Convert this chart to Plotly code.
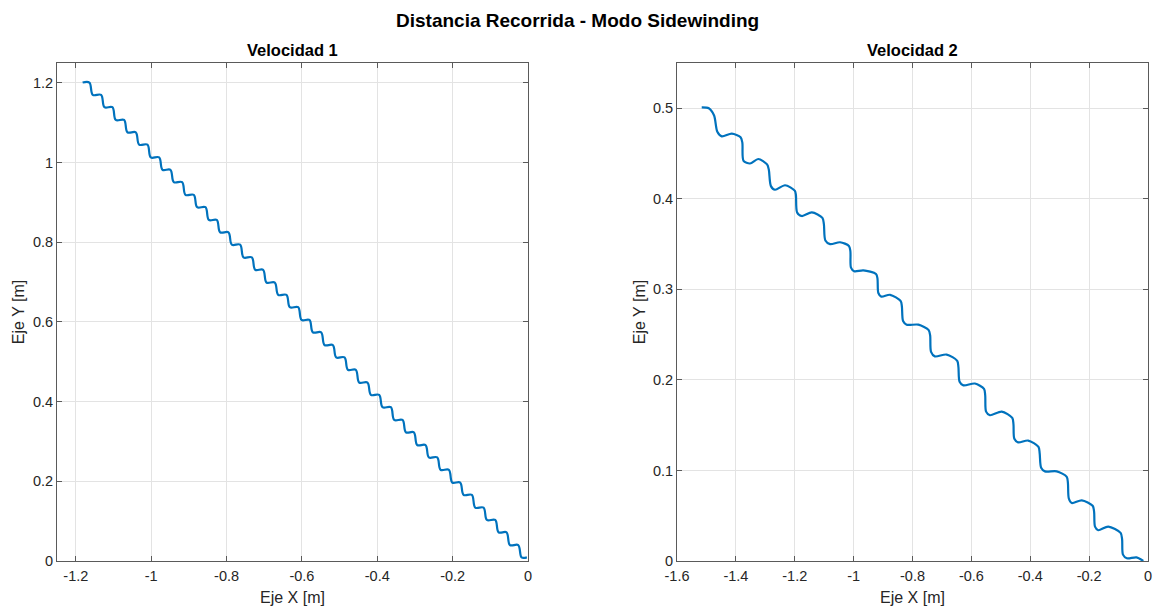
import plotly.graph_objects as go

# ---------------- data ----------------
# Velocidad 1: staircase trajectory (start of each flat, end of each flat, level)
v1_flat_start_x = [-1.182, -1.155, -1.124, -1.094, -1.063, -1.032, -1.001, -0.970, -0.940, -0.909,
                   -0.878, -0.847, -0.817, -0.786, -0.755, -0.724, -0.694, -0.663, -0.632, -0.601,
                   -0.571, -0.540, -0.509, -0.478, -0.448, -0.417, -0.386, -0.355, -0.324, -0.294,
                   -0.263, -0.232, -0.201, -0.171, -0.140, -0.109, -0.078, -0.048, -0.017]
v1_flat_end_x = [-1.164, -1.133, -1.103, -1.072, -1.041, -1.010, -0.979, -0.949, -0.918, -0.887,
                 -0.856, -0.826, -0.795, -0.764, -0.733, -0.703, -0.672, -0.641, -0.610, -0.580,
                 -0.549, -0.518, -0.487, -0.457, -0.426, -0.395, -0.364, -0.333, -0.303, -0.272,
                 -0.241, -0.210, -0.180, -0.149, -0.118, -0.087, -0.057, -0.026, -0.003]
v1_level_y = [1.201, 1.170, 1.139, 1.107, 1.076, 1.045, 1.013, 0.982, 0.951, 0.919,
              0.888, 0.856, 0.825, 0.794, 0.762, 0.731, 0.699, 0.668, 0.637, 0.605,
              0.574, 0.542, 0.511, 0.480, 0.448, 0.417, 0.386, 0.354, 0.323, 0.291,
              0.260, 0.229, 0.197, 0.166, 0.134, 0.103, 0.072, 0.040, 0.009]

# Velocidad 2: trajectory points
v2_x = [-1.516, -1.492, -1.474, -1.463, -1.448, -1.414, -1.384, -1.378, -1.374, -1.352,
        -1.324, -1.294, -1.288, -1.281, -1.267, -1.233, -1.200, -1.196, -1.192, -1.176,
        -1.142, -1.106, -1.101, -1.096, -1.080, -1.046, -1.016, -1.011, -1.009, -0.998,
        -0.967, -0.924, -0.919, -0.916, -0.906, -0.876, -0.840, -0.836, -0.832, -0.820,
        -0.780, -0.745, -0.740, -0.737, -0.724, -0.684, -0.648, -0.644, -0.640, -0.627,
        -0.588, -0.557, -0.553, -0.550, -0.537, -0.497, -0.461, -0.457, -0.454, -0.441,
        -0.407, -0.372, -0.368, -0.363, -0.350, -0.310, -0.276, -0.272, -0.269, -0.259,
        -0.225, -0.188, -0.183, -0.180, -0.169, -0.135, -0.093, -0.088, -0.085, -0.072,
        -0.039, -0.016]
v2_y = [0.501, 0.500, 0.492, 0.474, 0.469, 0.472, 0.468, 0.462, 0.442, 0.439,
        0.444, 0.438, 0.432, 0.414, 0.410, 0.415, 0.409, 0.404, 0.385, 0.381,
        0.385, 0.379, 0.372, 0.354, 0.350, 0.352, 0.348, 0.342, 0.324, 0.320,
        0.321, 0.317, 0.312, 0.296, 0.292, 0.294, 0.287, 0.281, 0.265, 0.261,
        0.261, 0.255, 0.249, 0.231, 0.226, 0.228, 0.221, 0.214, 0.198, 0.194,
        0.196, 0.190, 0.183, 0.165, 0.161, 0.165, 0.158, 0.151, 0.135, 0.131,
        0.133, 0.126, 0.119, 0.103, 0.099, 0.099, 0.093, 0.086, 0.069, 0.064,
        0.067, 0.061, 0.054, 0.038, 0.034, 0.038, 0.031, 0.024, 0.007, 0.003,
        0.004, 0.000]

x1_tickvals = [-1.2, -1.0, -0.8, -0.6, -0.4, -0.2, 0.0]
x1_ticktext = ["-1.2", "-1", "-0.8", "-0.6", "-0.4", "-0.2", "0"]
y1_tickvals = [0, 0.2, 0.4, 0.6, 0.8, 1.0, 1.2]
y1_ticktext = ["0", "0.2", "0.4", "0.6", "0.8", "1", "1.2"]
x2_tickvals = [-1.6, -1.4, -1.2, -1.0, -0.8, -0.6, -0.4, -0.2, 0.0]
x2_ticktext = ["-1.6", "-1.4", "-1.2", "-1", "-0.8", "-0.6", "-0.4", "-0.2", "0"]
y2_tickvals = [0, 0.1, 0.2, 0.3, 0.4, 0.5]
y2_ticktext = ["0", "0.1", "0.2", "0.3", "0.4", "0.5"]

# build staircase path for Velocidad 1 from the read step corners
v1_x, v1_y = [], []
for xs, xe, yl in zip(v1_flat_start_x, v1_flat_end_x, v1_level_y):
    v1_x += [xs, xe]
    v1_y += [yl, yl]

# ---------------- figure ----------------
FONT = "Liberation Sans, Arial, Helvetica, sans-serif"
LINE = "#0072BD"
fig = go.Figure()
fig.add_trace(go.Scatter(x=v1_x, y=v1_y, mode="lines",
                         line=dict(color=LINE, width=2.2, shape="spline", smoothing=1.0),
                         xaxis="x", yaxis="y", showlegend=False))
fig.add_trace(go.Scatter(x=v2_x, y=v2_y, mode="lines",
                         line=dict(color=LINE, width=2.2, shape="spline", smoothing=0.8),
                         xaxis="x2", yaxis="y2", showlegend=False))

W, H = 1154, 610
def dom_x(a, b):
    return [a / W, b / W]
ydom = [(H - 561) / H, (H - 63) / H]

axis_common = dict(
    showline=True, linecolor="#5a5a5a", linewidth=1, mirror="ticks",
    ticks="inside", ticklen=5, tickcolor="#5a5a5a", tickwidth=1,
    showgrid=True, gridcolor="#e3e3e3", gridwidth=1, zeroline=False,
    tickfont=dict(family=FONT, size=14.5, color="#262626"),
    title_font=dict(family=FONT, size=16, color="#262626"),
    fixedrange=True,
)

fig.update_layout(
    width=W, height=H,
    margin=dict(l=0, r=0, t=0, b=0, autoexpand=False),
    paper_bgcolor="white", plot_bgcolor="white",
    font=dict(family=FONT, color="#262626"),
    xaxis=dict(domain=dom_x(57, 528), range=[-1.25, 0], tickvals=x1_tickvals, ticktext=x1_ticktext,
               ticklabelstandoff=2,
               title=dict(text="Eje X [m]", standoff=8), anchor="y", **axis_common),
    yaxis=dict(domain=ydom, range=[0, 1.25], tickvals=y1_tickvals, ticktext=y1_ticktext,
               title=dict(text="Eje Y [m]", standoff=4), anchor="x", **axis_common),
    xaxis2=dict(domain=dom_x(677, 1148), range=[-1.6, 0], tickvals=x2_tickvals, ticktext=x2_ticktext,
                ticklabelstandoff=2,
                title=dict(text="Eje X [m]", standoff=8), anchor="y2", **axis_common),
    yaxis2=dict(domain=ydom, range=[0, 0.55], tickvals=y2_tickvals, ticktext=y2_ticktext,
                title=dict(text="Eje Y [m]", standoff=3), anchor="x2", **axis_common),
    annotations=[
        dict(text="<b>Distancia Recorrida - Modo Sidewinding</b>", x=0.5, y=(H - 20) / H,
             xref="paper", yref="paper", showarrow=False, xanchor="center", yanchor="middle",
             font=dict(family=FONT, size=19, color="black")),
        dict(text="<b>Velocidad 1</b>", x=(57 + 528) / 2 / W, y=(H - 50) / H,
             xref="paper", yref="paper", showarrow=False, xanchor="center", yanchor="middle",
             font=dict(family=FONT, size=16.5, color="black")),
        dict(text="<b>Velocidad 2</b>", x=(677 + 1148) / 2 / W, y=(H - 50) / H,
             xref="paper", yref="paper", showarrow=False, xanchor="center", yanchor="middle",
             font=dict(family=FONT, size=16.5, color="black")),
    ],
)

fig.write_html("out.html")
